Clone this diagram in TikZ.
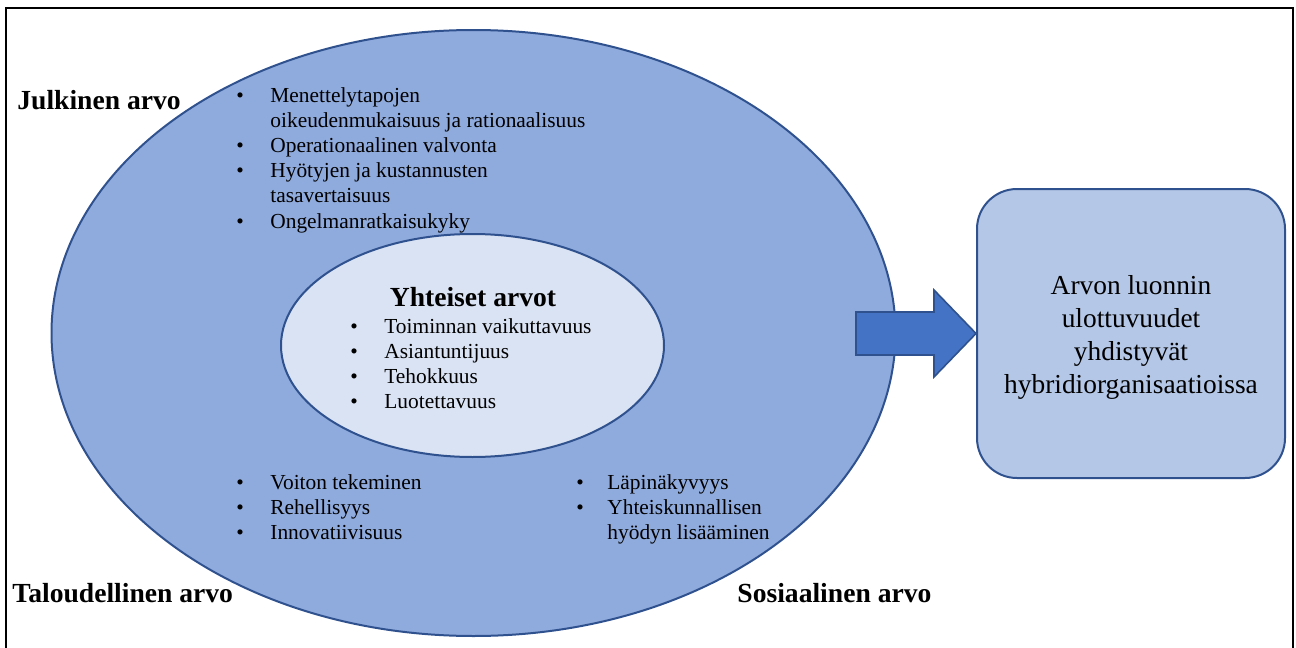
\documentclass[tikz,border=0pt]{standalone}
\usepackage{fontspec}
\setmainfont{Liberation Serif}
\usepackage{tikz}
\usetikzlibrary{shapes.geometric}

\definecolor{isotaytto}{RGB}{143,170,220}
\definecolor{sisataytto}{RGB}{218,227,243}
\definecolor{laatikkotaytto}{RGB}{180,199,231}
\definecolor{nuolitaytto}{RGB}{68,114,196}
\definecolor{reuna}{RGB}{47,82,143}

\newcommand{\luettelo}[2][17pt]{%
  \begin{tabular}[t]{@{}p{#1}@{}l@{}}#2\end{tabular}}

\tikzset{
  otsikko/.style={anchor=base west, inner sep=0pt,
    font=\fontsize{13.8}{16}\selectfont\bfseries},
  lista/.style={anchor=base west, inner sep=0pt,
    font=\fontsize{10.7}{12.6}\selectfont},
  soikio/.style={ellipse, draw=reuna, line width=1pt, inner sep=0pt}
}

\begin{document}
\begin{tikzpicture}[x=0.5pt, y=-0.5pt]

  \useasboundingbox (0,0) rectangle (1296,648);
  \draw[line width=1.3pt] (6,648) -- (6,8) -- (1293,8) -- (1293,648);

  \node[soikio, fill=isotaytto, minimum width=422pt, minimum height=303pt]
  (arvot) at (473.5,333) {};
  \node[soikio, fill=sisataytto, minimum width=191.5pt, minimum height=111.5pt]
  (yhteiset) at (472.5,345.5) {};

  \node[draw=reuna, line width=1pt, fill=laatikkotaytto, rounded corners=20pt,
    minimum width=154pt, minimum height=144.5pt]
  (tulos) at (1131,333.5) {};
  \node[align=center, font=\fontsize{13.7}{16.6}\selectfont]
  (tulosteksti) at ([yshift=-2pt]tulos.center)
  {Arvon luonnin\\ ulottuvuudet\\ yhdistyvät\\ hybridiorganisaatioissa};

  % blokkinuoli
  \filldraw[draw=reuna, fill=nuolitaytto, line width=0.8pt]
  (tulos.west) -- ++(-42,-43.5) -- ++(0,22) -- ++(-78,0) -- ++(0,43)
  -- ++(78,0) -- ++(0,22) -- cycle;

  \node[otsikko] (julkinen) at (17,109) {Julkinen arvo};
  \node[otsikko] (taloudellinen) at (12,602) {Taloudellinen arvo};
  \node[otsikko] (sosiaalinen) at (737,602) {Sosiaalinen arvo};
  \node[otsikko, anchor=base] (yhteisetotsikko) at (473,306) {Yhteiset arvot};

  \node[lista] (julkinenlista) at (236,102) {\luettelo{%
    \textbullet & Menettelytapojen\\
    & oikeudenmukaisuus ja rationaalisuus\\
    \textbullet & Operationaalinen valvonta\\
    \textbullet & Hyötyjen ja kustannusten\\
    & tasavertaisuus\\
    \textbullet & Ongelmanratkaisukyky}};

  \node[lista] (yhteisetlista) at (350,333) {\luettelo{%
    \textbullet & Toiminnan vaikuttavuus\\
    \textbullet & Asiantuntijuus\\
    \textbullet & Tehokkuus\\
    \textbullet & Luotettavuus}};

  \node[lista] (taloudellinenlista) at (236,489) {\luettelo{%
    \textbullet & Voiton tekeminen\\
    \textbullet & Rehellisyys\\
    \textbullet & Innovatiivisuus}};

  \node[lista] (sosiaalinenlista) at (576,489) {\luettelo[15.5pt]{%
    \textbullet & Läpinäkyvyys\\
    \textbullet & Yhteiskunnallisen\\
    & hyödyn lisääminen}};

\end{tikzpicture}
\end{document}
